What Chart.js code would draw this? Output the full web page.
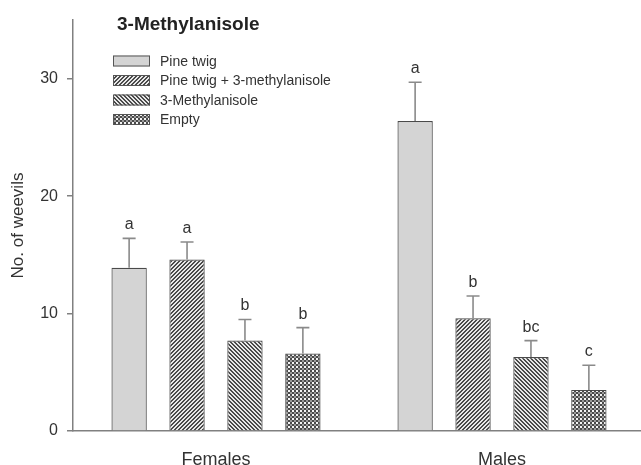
<!doctype html>
<html lang="en">
<head>
  <meta charset="utf-8" />
  <title>3-Methylanisole</title>
  <script src="https://cdn.jsdelivr.net/npm/chart.js"></script>
  <style>
    html, body { margin: 0; padding: 0; background: #fff; overflow: hidden; }
    .box { width: 645px; height: 465px; position: relative; }
  </style>
</head>
<body>
  <div class="box"><canvas id="chart"></canvas></div>
  <script>
    const groups = ['Females', 'Males'];
    const treatments = ['Pine twig', 'Pine twig + 3-methylanisole', '3-Methylanisole', 'Empty'];
    // means per treatment, [Females, Males]
    const pineTwig = [13.9, 26.4];
    const pineTwigMethyl = [14.6, 9.6];
    const methylanisole = [7.7, 6.3];
    const empty = [6.6, 3.5];
    // top of error bar (mean + SE)
    const pineTwigErr = [16.4, 29.7];
    const pineTwigMethylErr = [16.1, 11.5];
    const methylanisoleErr = [9.5, 7.7];
    const emptyErr = [8.8, 5.6];
    // significance letters
    const pineTwigLetters = ['a', 'a'];
    const pineTwigMethylLetters = ['a', 'b'];
    const methylanisoleLetters = ['b', 'bc'];
    const emptyLetters = ['b', 'c'];
    const yTicks = [0, 10, 20, 30];

    const FONT = '"Liberation Sans", Arial, sans-serif';
    const TEXT = '#333';
    const AXIS = '#808080';

    function hatch(kind) {
      const s = 4;
      const c = document.createElement('canvas');
      c.width = s; c.height = s;
      const g = c.getContext('2d');
      g.fillStyle = '#e8e8e8';
      g.fillRect(0, 0, s, s);
      g.fillStyle = '#4a4a4a';
      if (kind === 'fwd') {
        for (let i = 0; i < s; i++) g.fillRect(s - 1 - i, i, 1, 1);
        for (let i = 0; i < s; i++) g.fillRect((s - i) % s, i, 1, 1);
      } else if (kind === 'back') {
        for (let i = 0; i < s; i++) g.fillRect(i, i, 1, 1);
        for (let i = 0; i < s; i++) g.fillRect((i + 1) % s, i, 1, 1);
      } else {
        g.fillRect(0, 0, 2, 2);
        g.fillRect(2, 2, 2, 2);
        g.fillStyle = '#9a9a9a';
        g.fillRect(2, 0, 2, 2);
        g.fillStyle = '#f4f4f4';
        g.fillRect(0, 2, 2, 2);
      }
      return g.createPattern(c, 'repeat');
    }

    const fills = ['#d4d4d4', hatch('fwd'), hatch('back'), hatch('cross')];
    const errTops = [pineTwigErr, pineTwigMethylErr, methylanisoleErr, emptyErr];
    const letters = [pineTwigLetters, pineTwigMethylLetters, methylanisoleLetters, emptyLetters];
    const series = [pineTwig, pineTwigMethyl, methylanisole, empty];

    const extras = {
      id: 'extras',
      afterDatasetsDraw(chart) {
        const ctx = chart.ctx;
        const y = chart.scales.y;
        ctx.save();
        chart.data.datasets.forEach((ds, di) => {
          const meta = chart.getDatasetMeta(di);
          meta.data.forEach((bar, i) => {
            const top = y.getPixelForValue(errTops[di][i]);
            ctx.strokeStyle = '#8a8a8a';
            ctx.lineWidth = 1.6;
            ctx.beginPath();
            ctx.moveTo(bar.x, bar.y);
            ctx.lineTo(bar.x, top);
            ctx.moveTo(bar.x - 6.5, top);
            ctx.lineTo(bar.x + 6.5, top);
            ctx.stroke();
            ctx.fillStyle = TEXT;
            ctx.font = '16px ' + FONT;
            ctx.textAlign = 'center';
            ctx.textBaseline = 'alphabetic';
            ctx.fillText(letters[di][i], bar.x, top - 9);
          });
        });

        // title
        ctx.fillStyle = '#222';
        ctx.font = 'bold 19px ' + FONT;
        ctx.textAlign = 'left';
        ctx.textBaseline = 'middle';
        ctx.fillText('3-Methylanisole', 117, 25);

        // legend
        const rows = [61, 80.5, 100, 119.5];
        ctx.font = '14px ' + FONT;
        treatments.forEach((t, i) => {
          ctx.fillStyle = fills[i];
          ctx.fillRect(113, rows[i] - 5.5, 37, 11);
          ctx.strokeStyle = '#555';
          ctx.lineWidth = 1;
          ctx.strokeRect(113.5, rows[i] - 5, 36, 10);
          ctx.fillStyle = TEXT;
          ctx.fillText(t, 160, rows[i] + 1);
        });
        ctx.restore();
      }
    };

    new Chart(document.getElementById('chart'), {
      type: 'bar',
      data: {
        labels: groups,
        datasets: series.map((d, i) => ({
          label: treatments[i],
          data: d,
          backgroundColor: fills[i],
          borderColor: '#4a4a4a',
          borderWidth: 1.2,
          barPercentage: 0.61,
          categoryPercentage: 0.81
        }))
      },
      options: {
        responsive: true,
        maintainAspectRatio: false,
        animation: false,
        layout: { padding: { top: 20, right: 0, left: 0, bottom: 0 } },
        plugins: { legend: { display: false }, tooltip: { enabled: false } },
        scales: {
          x: {
            grid: { display: false },
            border: { display: true, color: AXIS, width: 1.5 },
            ticks: { color: TEXT, font: { family: FONT, size: 18 }, padding: 10 },
            afterFit(scale) { scale.height = 34; }
          },
          y: {
            min: 0,
            max: 35,
            afterBuildTicks(scale) { scale.ticks = yTicks.map(v => ({ value: v })); },
            grid: { drawOnChartArea: false, drawTicks: true, tickLength: 6, color: AXIS, lineWidth: 1.5 },
            border: { display: true, color: AXIS, width: 1.5 },
            ticks: { color: TEXT, font: { family: FONT, size: 16 }, padding: 9 },
            title: { display: true, text: 'No. of weevils', color: TEXT, font: { family: FONT, size: 17 }, padding: { top: 8, bottom: 0 } },
            afterFit(scale) { scale.width = 73; }
          }
        }
      },
      plugins: [extras]
    });
  </script>
</body>
</html>
